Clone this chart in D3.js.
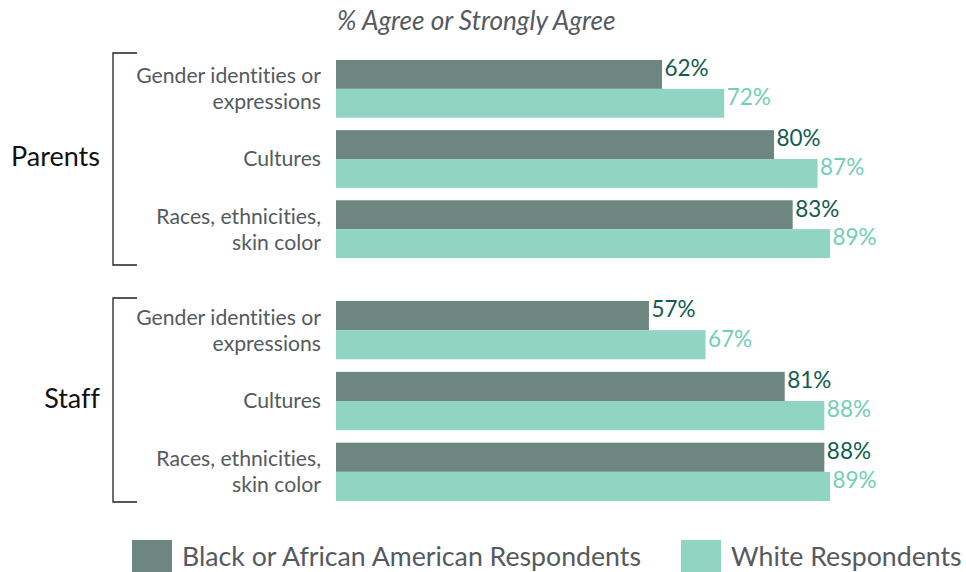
<!DOCTYPE html>
<html>
<head>
<meta charset="utf-8">
<script src="https://cdn.jsdelivr.net/npm/d3@7"></script>
<style>
  html, body { margin: 0; padding: 0; background: #fff; }
  svg { display: block; font-family: Lato, "Open Sans", sans-serif; font-variant-ligatures: none; }
</style>
</head>
<body>
<svg id="chart" width="966" height="572"></svg>
<script>
// ---- data ----
const title = "% Agree or Strongly Agree";
const groups = ["Parents", "Staff"];
const categories = [
  ["Gender identities or", "expressions"],
  ["Cultures"],
  ["Races, ethnicities,", "skin color"]
];
const categoryKeys = ["Gender", "Cultures", "Races"];
const seriesNames = ["Black or African American Respondents", "White Respondents"];
const parentsBlack = [62, 80, 83];
const parentsWhite = [72, 87, 89];
const staffBlack = [57, 81, 88];
const staffWhite = [67, 88, 89];
// axis domain starts (each panel had its own axis minimum)
const parentsAxisMin = 9.6;
const staffAxisMin = 1.7;
const axisMax = 89;

// ---- style ----
const barColors = ["#6d8780", "#8fd5c2"];
const labelColors = ["#135c4f", "#72cfb5"];
const textGray = "#555a5e";

const svg = d3.select("#chart");

svg.append("text")
  .attr("x", 337).attr("y", 30)
  .attr("font-size", 26.2).attr("font-style", "italic")
  .attr("fill", textGray)
  .text(title);

const panels = [
  { name: groups[0], black: parentsBlack, white: parentsWhite, min: parentsAxisMin, y0: 60, y1: 258, b0: 53, b1: 265 },
  { name: groups[1], black: staffBlack, white: staffWhite, min: staffAxisMin, y0: 301, y1: 501, b0: 298, b1: 502 }
];

panels.forEach(p => {
  const x = d3.scaleLinear().domain([p.min, axisMax]).range([336, 830]);
  const y = d3.scaleBand().domain(categoryKeys).range([p.y0, p.y1]).paddingInner(0.177).paddingOuter(0);
  const sub = d3.scaleBand().domain([0, 1]).range([0, y.bandwidth()]);
  const g = svg.append("g");

  const rows = categoryKeys.map((k, i) => ({ key: k, lines: categories[i], vals: [p.black[i], p.white[i]] }));

  rows.forEach(r => {
    r.vals.forEach((v, s) => {
      g.append("rect")
        .attr("x", x(p.min))
        .attr("y", y(r.key) + sub(s))
        .attr("width", x(v) - x(p.min))
        .attr("height", sub.bandwidth())
        .attr("fill", barColors[s]);
      g.append("text")
        .attr("x", x(v) + 2.5)
        .attr("y", y(r.key) + sub(s) + sub.bandwidth() / 2 - 6)
        .attr("dy", "0.35em")
        .attr("font-size", 22.5)
        .attr("fill", labelColors[s])
        .text(v + "%");
    });
    const cy = y(r.key) + y.bandwidth() / 2;
    const lh = 26;
    r.lines.forEach((ln, li) => {
      g.append("text")
        .attr("x", 321)
        .attr("y", cy + (li - (r.lines.length - 1) / 2) * lh)
        .attr("dy", "0.35em")
        .attr("text-anchor", "end")
        .attr("font-size", 21.2)
        .attr("fill", textGray)
        .text(ln);
    });
  });

  // bracket
  g.append("path")
    .attr("d", `M137,${p.b0}H113V${p.b1}H137`)
    .attr("fill", "none")
    .attr("stroke", "#222")
    .attr("stroke-width", 1.3);

  g.append("text")
    .attr("x", 100)
    .attr("y", (p.y0 + p.y1) / 2 - 2)
    .attr("dy", "0.35em")
    .attr("text-anchor", "end")
    .attr("font-size", 27)
    .attr("fill", "#111")
    .text(p.name);
});

// legend
const legendX = [132, 681];
seriesNames.forEach((n, i) => {
  svg.append("rect")
    .attr("x", legendX[i]).attr("y", 540)
    .attr("width", 40).attr("height", 40)
    .attr("fill", barColors[i]);
  svg.append("text")
    .attr("x", legendX[i] + 50).attr("y", 566)
    .attr("font-size", 26.7)
    .attr("fill", textGray)
    .text(n);
});
</script>
</body>
</html>
